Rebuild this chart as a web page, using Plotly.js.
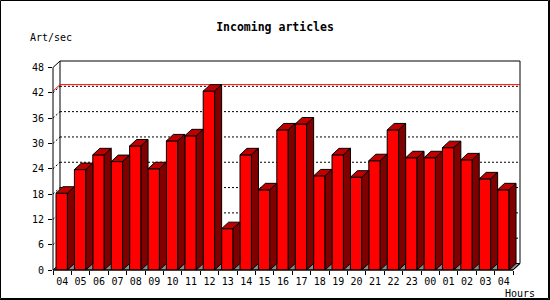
<!DOCTYPE html>
<html><head><meta charset="utf-8">
<script src="https://cdn.plot.ly/plotly-3.0.1.min.js"></script>
<style>html,body{margin:0;padding:0;background:#fff}#chart{width:550px;height:300px}</style>
</head><body><div id="chart"></div>
<script>
// ---- data ----
const hours = ['04','05','06','07','08','09','10','11','12','13','14','15','16','17','18','19','20','21','22','23','00','01','02','03','04'];
const artPerSec = [18.2, 23.8, 27.3, 25.7, 29.4, 24.0, 30.6, 31.8, 42.4, 9.8, 27.3, 19.0, 33.2, 34.6, 22.3, 27.3, 22.0, 25.9, 33.2, 26.6, 26.6, 29.0, 26.1, 21.6, 19.0];
const yTicks = [0, 6, 12, 18, 24, 30, 36, 42, 48];
const titleText = 'Incoming articles';
const yTitle = 'Art/sec';
const xTitle = 'Hours';

// ---- geometry ----
const W = 550, H = 300, L = 53, R = 30, T = 61, B = 30;
const pw = W - L - R, ph = H - T - B;
const depthPx = 7, depthPy = 6.5;
const n = hours.length;
const yMax = yTicks[yTicks.length - 1];
const pux = (pw - depthPx) / n;
const d = depthPx / pux;
const puy = (ph - depthPy) / yMax;
const e = depthPy / puy;
const xr = [-0.5, n - 0.5 + d];
const yr = [0, yMax + e];
const X = v => (v - xr[0]) / (xr[1] - xr[0]);
const Y = v => (v - yr[0]) / (yr[1] - yr[0]);
const PX = p => (p - L) / pw;
const PY = p => (H - B - p) / ph;

const idx = hours.map((_, i) => i);
const off = -0.337, bw = 0.622;

// top and side faces built from the data values
const topX = [], topY = [], sideX = [], sideY = [];
artPerSec.forEach((v, i) => {
  const a = i + off, b = i + off + bw;
  topX.push(a, a + d, b + d, b, a, null);
  topY.push(v, v + e, v + e, v, v, null);
  sideX.push(b, b + d, b + d, b, b, null);
  sideY.push(v, v + e, e, 0, v, null);
});

const traces = [
  {type: 'bar', x: idx, y: artPerSec, offset: off, width: bw,
   marker: {color: '#ff0000', line: {color: '#000', width: 1}}, hoverinfo: 'skip'},
  {type: 'scatter', mode: 'lines', x: topX, y: topY, fill: 'toself', fillcolor: '#c00000',
   line: {color: '#000', width: 1}, hoverinfo: 'skip'},
  {type: 'scatter', mode: 'lines', x: sideX, y: sideY, fill: 'toself', fillcolor: '#800000',
   line: {color: '#000', width: 1}, hoverinfo: 'skip'}
];

const shapes = [];
const line = (x0, y0, x1, y1, color, dash, layer) => shapes.push({type: 'line', xref: 'paper', yref: 'paper',
  x0: x0, y0: y0, x1: x1, y1: y1, layer: layer || 'below', line: {color: color, width: 1, dash: dash || 'solid'}});

// back plane
shapes.push({type: 'rect', xref: 'paper', yref: 'paper', layer: 'below',
  x0: X(-0.5 + d), x1: X(n - 0.5 + d), y0: Y(e), y1: Y(yMax + e),
  fillcolor: '#fff', line: {color: '#000', width: 1}});
// floor
shapes.push({type: 'path', xref: 'paper', yref: 'paper', layer: 'below',
  path: `M${X(-0.5)},${Y(0)} L${X(n - 0.5)},${Y(0)} L${X(n - 0.5 + d)},${Y(e)} L${X(-0.5 + d)},${Y(e)} Z`,
  fillcolor: '#8c8c8c', line: {color: '#000', width: 1}});
// grid lines
yTicks.slice(1, -1).forEach(v => {
  line(X(-0.5 + d), Y(v + e), X(n - 0.5 + d), Y(v + e), '#000', '2px,2px');
  line(X(-0.5), Y(v), X(-0.5 + d), Y(v + e), '#000', '2px,2px');
});
// max line
const m = Math.max(...artPerSec);
line(X(-0.5), Y(m), X(-0.5 + d), Y(m + e), '#ff0000');
line(X(-0.5 + d), Y(m + e), X(n - 0.5 + d), Y(m + e), '#ff0000');
// axes
line(X(-0.5), Y(0), X(-0.5), Y(yMax), '#000', null, 'above');
line(X(-0.5), Y(yMax), X(-0.5 + d), Y(yMax + e), '#000', null, 'above');
line(X(-0.5), Y(0), X(n - 0.5), Y(0), '#000', null, 'above');
line(X(n - 0.5), Y(0), X(n - 0.5 + d), Y(e), '#000', null, 'above');
// frame
shapes.push({type: 'rect', xref: 'paper', yref: 'paper', layer: 'above',
  x0: PX(0.5), x1: PX(548.5), y0: PY(298.5), y1: PY(0.5), line: {color: '#000', width: 1}});
line(PX(549.5), PY(0), PX(549.5), PY(300), '#000', null, 'above');
line(PX(0), PY(299.5), PX(550), PY(299.5), '#000', null, 'above');

const font = {family: 'DejaVu Sans Mono', size: 10, color: '#000'};
const layout = {
  width: W, height: H,
  margin: {l: L, r: R, t: T, b: B, pad: 0, autoexpand: false},
  paper_bgcolor: '#fff', plot_bgcolor: 'rgba(0,0,0,0)',
  showlegend: false, bargap: 0,
  title: {text: titleText, x: 0.5, xref: 'container', xanchor: 'center', y: 1 - 27 / H, yref: 'container', yanchor: 'middle',
    font: {family: 'DejaVu Sans Mono', size: 11.5, weight: 'bold', color: '#000'}},
  xaxis: {range: xr, showgrid: false, zeroline: false, showline: false, fixedrange: true,
    tickmode: 'array', tickvals: idx, ticktext: hours, ticks: '', tickfont: font, ticklabelstandoff: 4,
    minor: {tickmode: 'array', tickvals: idx.concat([n]).map(i => i - 0.5), ticks: 'outside', ticklen: 4, tickcolor: '#000', tickwidth: 1, showgrid: false}},
  yaxis: {range: yr, showgrid: false, zeroline: false, showline: false, fixedrange: true, ticklabelstandoff: 2,
    tickmode: 'array', tickvals: yTicks, ticks: 'outside', ticklen: 4, tickcolor: '#000', tickwidth: 1, tickfont: font},
  shapes: shapes,
  annotations: [
    {text: yTitle, xref: 'paper', yref: 'paper', x: PX(50.5), y: PY(37), xanchor: 'center', yanchor: 'middle', showarrow: false, font: font},
    {text: xTitle, xref: 'paper', yref: 'paper', x: PX(519.5), y: PY(293), xanchor: 'center', yanchor: 'middle', showarrow: false, font: font}
  ]
};
Plotly.newPlot('chart', traces, layout, {staticPlot: true, displayModeBar: false});
</script>
</body></html>
